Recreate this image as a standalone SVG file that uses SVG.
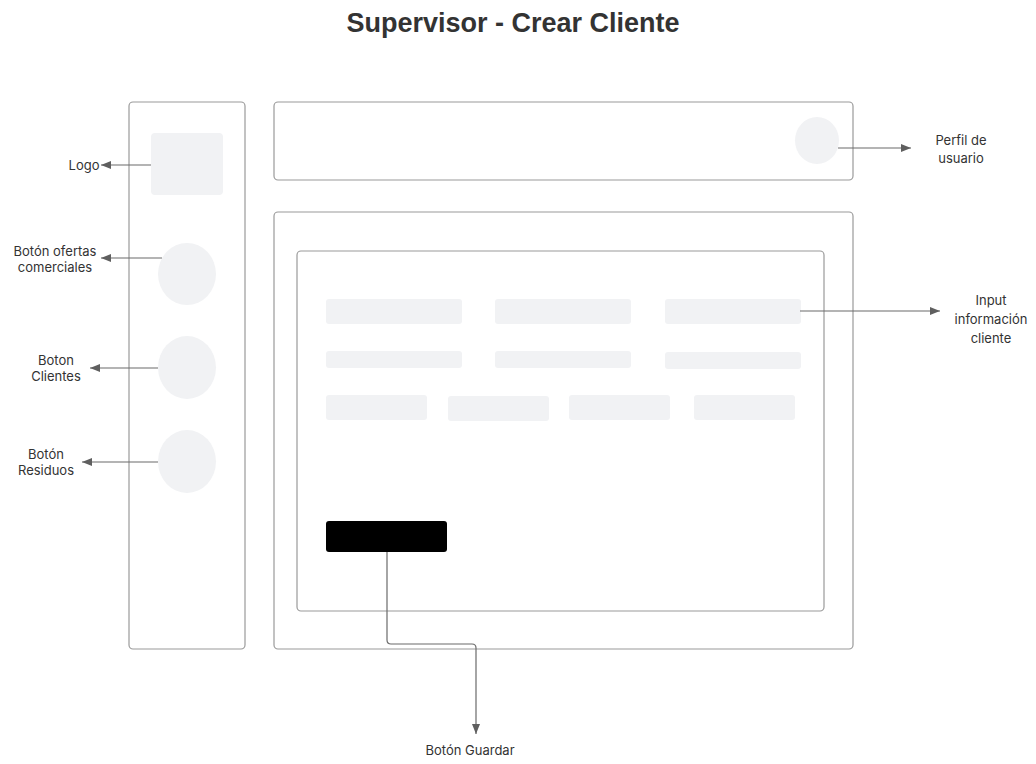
<svg xmlns="http://www.w3.org/2000/svg" width="1036" height="764" viewBox="0 0 1036 764">
  <style>
    .frame { fill: #ffffff; stroke: #9a9a9a; stroke-width: 1.2; }
    .ph { fill: #f1f2f4; }
    .btn { fill: #000000; }
    .wire { fill: none; stroke: #6b6b6b; stroke-width: 1.2; }
    .lbl { font-family: Inter, "Liberation Sans", sans-serif; font-size: 13px; fill: #333333; text-anchor: middle; }
    .title { font-family: "Liberation Sans", Arial, sans-serif; font-size: 27px; font-weight: bold; fill: #333333; text-anchor: middle; }
  </style>
  <defs>
    <marker id="arrow" viewBox="0 0 10 10" refX="10" refY="5" markerWidth="10" markerHeight="10" markerUnits="userSpaceOnUse" orient="auto">
      <path d="M0,1 L10,5 L0,9 Z" fill="#5f5f5f"/>
    </marker>
  </defs>

  <rect width="1036" height="764" fill="#ffffff"/>

  <text class="title" x="513" y="32">Supervisor - Crear Cliente</text>

  <!-- sidebar -->
  <g id="sidebar">
    <rect class="frame" x="129" y="102" width="116" height="547" rx="4"/>
    <rect id="logo" class="ph" x="151" y="133" width="72" height="62" rx="4"/>
    <ellipse id="btn-ofertas" class="ph" cx="187" cy="274" rx="29" ry="31"/>
    <ellipse id="btn-clientes" class="ph" cx="187" cy="367.5" rx="29" ry="31.5"/>
    <ellipse id="btn-residuos" class="ph" cx="187" cy="461.5" rx="29" ry="31.5"/>
  </g>

  <!-- header bar -->
  <g id="header">
    <rect class="frame" x="274" y="102" width="579" height="78" rx="4"/>
    <ellipse id="perfil" class="ph" cx="817" cy="140.5" rx="22" ry="23.5"/>
  </g>

  <!-- main content -->
  <g id="main">
    <rect class="frame" x="274" y="212" width="579" height="437" rx="4"/>
    <rect class="frame" x="297" y="251" width="527" height="360" rx="4"/>
  </g>

  <g id="form">
    <rect class="ph" x="326" y="299" width="136" height="25" rx="3"/>
    <rect class="ph" x="495" y="299" width="136" height="25" rx="3"/>
    <rect class="ph" x="665" y="299" width="136" height="25" rx="3"/>
    <rect class="ph" x="326" y="351" width="136" height="17" rx="3"/>
    <rect class="ph" x="495" y="351" width="136" height="17" rx="3"/>
    <rect class="ph" x="665" y="352" width="136" height="17" rx="3"/>
    <rect class="ph" x="326" y="395" width="101" height="25" rx="3"/>
    <rect class="ph" x="448" y="396" width="101" height="25" rx="3"/>
    <rect class="ph" x="569" y="395" width="101" height="25" rx="3"/>
    <rect class="ph" x="694" y="395" width="101" height="25" rx="3"/>
  </g>

  <g id="guardar">
    <rect class="btn" x="326" y="521" width="121" height="31" rx="3"/>
  </g>

  <!-- connectors -->
  <g id="connectors">
    <line class="wire" x1="151" y1="165" x2="101" y2="165" marker-end="url(#arrow)"/>
    <line class="wire" x1="162" y1="258" x2="101" y2="258" marker-end="url(#arrow)"/>
    <line class="wire" x1="158" y1="368" x2="90" y2="368" marker-end="url(#arrow)"/>
    <line class="wire" x1="158" y1="462" x2="82" y2="462" marker-end="url(#arrow)"/>
    <line class="wire" x1="838" y1="148" x2="911" y2="148" marker-end="url(#arrow)"/>
    <line class="wire" x1="800" y1="311" x2="940" y2="311" marker-end="url(#arrow)"/>
    <path class="wire" d="M387,552 L387,640 Q387,644 391,644 L472,644 Q476,644 476,648 L476,734" marker-end="url(#arrow)"/>
  </g>

  <!-- labels -->
  <g id="labels">
    <text class="lbl" x="84" y="170">Logo</text>
    <text class="lbl" x="55" y="256">Botón ofertas</text>
    <text class="lbl" x="55" y="272">comerciales</text>
    <text class="lbl" x="56" y="365">Boton</text>
    <text class="lbl" x="56" y="381">Clientes</text>
    <text class="lbl" x="46" y="459">Botón</text>
    <text class="lbl" x="46" y="475">Residuos</text>
    <text class="lbl" x="961" y="145">Perfil de</text>
    <text class="lbl" x="961" y="163">usuario</text>
    <text class="lbl" x="991" y="305">Input</text>
    <text class="lbl" x="991" y="324">información</text>
    <text class="lbl" x="991" y="343">cliente</text>
    <text class="lbl" x="470" y="755">Botón Guardar</text>
  </g>
</svg>
